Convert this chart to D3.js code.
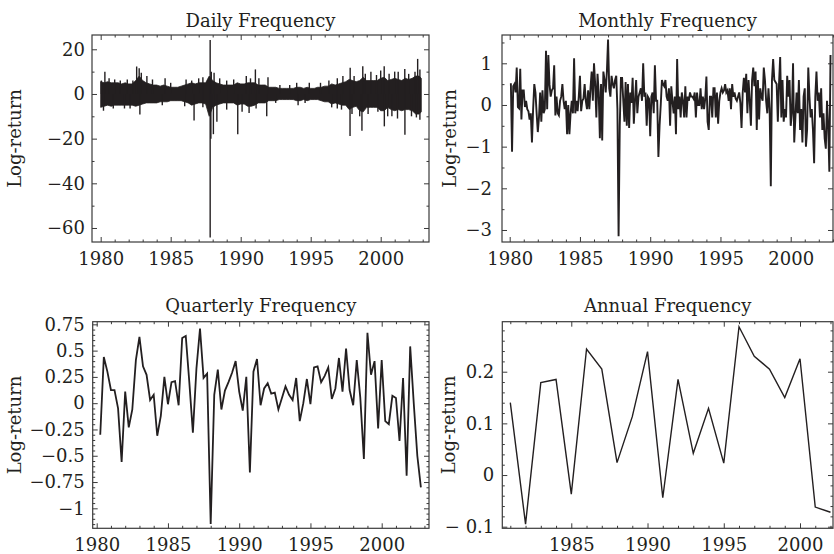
<!DOCTYPE html>
<html>
<head>
<meta charset="utf-8">
<script src="https://cdn.jsdelivr.net/npm/d3@7"></script>
<style>
  body { margin: 0; background: #fff; }
  svg text { font-family: "DejaVu Serif", serif; fill: #231f20; }
  .tick line { stroke: #3a3a3a; }
</style>
</head>
<body>
<div id="chart"></div>
<script>
// Log-returns at four sampling frequencies

// daily: quarterly envelope of the dense core, plus the individual spikes
const dailyBandHi = [
  5.5, 5, 5.5, 5,   5, 5, 4.5, 5,   4.5, 4.5, 6, 8,   6, 5, 4.5, 4,
  4, 3.5, 4, 3.5,   3, 3, 3, 3.5,   4, 4.5, 5, 4.5,   5, 5, 5, 8,
  6, 5, 4.5, 4,     4, 4, 4, 5,     4.5, 4.5, 5, 5,   5, 4, 4, 4,
  3, 3, 3, 2.5,     2.5, 2.5, 2.5, 2.5,  3, 3, 2.5, 3,  2.5, 2.5, 3, 3,
  3.5, 3.5, 4.5, 4, 4.5, 5, 5.5, 6.5,  6, 5.5, 6, 7.5,  6, 6, 6, 6,
  7, 7.5, 6, 6.5,   7, 6.5, 6, 7,   6.5, 7, 8, 8, 7
];
const dailyBandLo = [
  -6, -5.5, -5, -5.5,  -5, -5, -5, -5,  -5, -5, -5.5, -5,  -4.5, -4, -4, -4,
  -4, -3.5, -3.5, -3.5,  -3, -3, -3, -3,  -3.5, -4, -5, -4.5,  -4, -4, -4.5, -10,
  -6, -5, -4.5, -4,  -4, -4, -4, -5,  -4.5, -4.5, -5.5, -5.5,  -5, -4, -4, -4,
  -3, -3, -3, -2.5,  -2.5, -2.5, -2.5, -2.5,  -3, -3, -2.5, -3,  -2.5, -2.5, -2.5, -3,
  -3.5, -3.5, -4.5, -4,  -4.5, -5, -5, -7,  -6, -5.5, -7.5, -8,  -6, -6, -6, -6,
  -7.5, -7.5, -6, -7,  -7.5, -7, -7.5, -7,  -7, -7.5, -9, -9, -8
];
const dailySpikes = [
  [1980.05, 6], [1980.3, 10], [1980.6, 7], [1981.0, 6.5], [1981.4, 6], [1981.9, 6.5],
  [1982.3, 6], [1982.57, 12.3], [1982.75, 11.5], [1982.9, 9.5], [1983.3, 8], [1983.7, 6.5],
  [1984.6, 7], [1985.0, 5], [1986.1, 6.5], [1986.5, 6], [1987.0, 7], [1987.3, 7.5],
  [1987.82, 24.2], [1987.9, 10], [1988.1, 9.5], [1988.5, 7], [1989.0, 6], [1989.5, 6.5],
  [1990.4, 8], [1990.7, 7], [1991.05, 11], [1991.3, 7], [1991.95, 7.5], [1992.8, 4],
  [1993.5, 4], [1994.0, 5], [1994.9, 5], [1995.7, 5], [1996.3, 6], [1996.9, 7],
  [1997.3, 8], [1997.82, 11.7], [1998.1, 8], [1998.72, 12.4], [1998.9, 9], [1999.3, 10],
  [1999.7, 8.5], [2000.0, 10.5], [2000.25, 12.4], [2000.6, 9], [2001.0, 10], [2001.25, 10],
  [2001.72, 11.2], [2002.0, 9], [2002.45, 10], [2002.64, 15.7], [2002.8, 11],
  [1980.2, -7.5], [1980.9, -6.5], [1981.7, -6.5], [1982.1, -6.5], [1982.8, -9.2], [1984.4, -5],
  [1986.0, -5.5], [1986.67, -11.9], [1987.3, -6], [1987.82, -64.3], [1987.87, -20], [1988.05, -18],
  [1988.3, -12.4], [1989.0, -7], [1989.79, -18], [1990.1, -8], [1990.6, -8.5], [1991.1, -6.5],
  [1991.86, -10], [1992.5, -4], [1994.1, -5], [1994.6, -4], [1996.5, -6], [1996.9, -6.5],
  [1997.2, -7], [1997.81, -18.8], [1997.95, -9], [1998.5, -10], [1998.66, -16.5], [1999.1, -9],
  [1999.8, -8], [2000.26, -14.5], [2000.5, -10], [2000.8, -10], [2001.2, -11], [2001.73, -18.3],
  [2002.2, -10], [2002.55, -10.5], [2002.8, -11.5]
];

// monthly, Feb 1980 .. Nov 2002
const monthlyReturns = [
  0.52, -1.12, 0.45, 0.5, 0.3, 0.9, -0.05, -0.08, 0.87, -0.35, 0.35,
  0.35, -0.05, 0.1, -0.1, -0.15, -0.35, -0.2, -0.9, -0.1, 0.5, 0.3, -0.2,
  -0.65, -0.3, 0.3, -0.4, 0.35, -0.2, -0.1, 1.3, -0.1, 1.2, 0.5, 0.2,
  0.35, 0.4, 0.95, -0.25, 0.2, -0.2, -0.25, 0.1, 0.2, 0.5, 0.1, -0.1,
  0.1, -0.7, 0.0, -0.7, -0.2, 0.1, -0.2, 1.12, -0.2, 0.1, -0.15, 0.2,
  0.7, -0.15, 0.1, 0.15, 0.5, 0.1, -0.1, 0.35, -0.1, 0.4, 0.8, 0.1,
  1.0, 0.5, -0.3, 0.75, 0.3, -0.8, 0.5, -0.85, 0.8, 0.6, 0.3, 0.8,
  1.57, 0.4, 0.2, 0.7, 0.5, 0.4, 0.6, 0.7, -0.1, -3.15, -0.5, 0.65,
  0.65, 0.1, -0.4, 0.55, -0.5, 0.5, -0.55, 0.3, 0.05, 0.65, -0.45, 0.1,
  0.6, -0.2, 0.2, 0.3, 0.4, 0.1, 1.0, 0.2, 0.3, -0.5, 0.2, 0.15,
  -0.75, 0.2, 0.3, -0.2, 0.95, 0.1, 0.1, -1.25, -0.5, 0.0, 0.6, 0.5,
  0.45, 0.6, 0.2, 0.1, 0.4, -0.5, 0.45, 0.1, -0.2, 0.2, -0.7, 1.1,
  -0.1, 0.2, -0.3, 0.3, 0.1, -0.3, 0.45, -0.3, 0.2, 0.1, 0.3, 0.2,
  0.2, 0.15, 0.3, -0.3, 0.3, 0.0, 0.0, 0.4, -0.1, 0.2, -0.1, 0.15,
  0.68, -0.4, -0.6, 0.2, 0.2, -0.3, 0.4, 0.4, -0.3, 0.3, -0.45, 0.1,
  0.3, 0.4, 0.3, 0.35, 0.5, 0.3, 0.35, 0.1, 0.4, -0.1, 0.5, 0.2,
  0.3, 0.15, 0.1, 0.2, 0.3, 0.05, -0.55, 0.3, 0.65, 0.3, 0.75, -0.2,
  0.6, 0.1, -0.5, 0.6, 0.9, 0.45, 0.8, -0.6, 0.6, -0.35, 0.4, 0.2,
  0.1, 0.9, 0.6, 0.1, -0.2, 0.4, -0.1, -1.95, 0.6, 1.1, 0.6, 0.55,
  0.5, -0.4, 0.5, 1.15, -0.3, 0.6, -0.4, -0.1, -0.3, 0.7, 0.2, 0.6,
  -0.5, -0.2, 1.0, -0.9, -0.3, 0.3, -0.2, 0.6, -0.6, -0.1, -0.9, 0.2,
  0.4, -1.0, -0.6, 0.9, 0.2, -0.3, -0.1, -0.6, -1.4, 0.2, 0.8, 0.1,
  0.3, -0.3, 0.4, -0.6, -0.2, -0.8, -1.05, 0.1, -0.5, -1.6, 1.2
];

// quarterly, 1980.25 .. 2002.75
const quarterlyReturns = [
  -0.30, 0.44, 0.30, 0.125, 0.125, -0.05, -0.56, 0.11, -0.23, -0.06,
  0.41, 0.63, 0.35, 0.27, 0.03, 0.08, -0.31, -0.12, 0.25, -0.01,
  0.20, 0.21, -0.02, 0.62, 0.64, 0.20, -0.28, 0.33, 0.71, 0.24,
  0.28, -1.15, 0.08, 0.32, -0.06, 0.12, 0.20, 0.29, 0.40, 0.11,
  -0.07, 0.25, -0.66, 0.30, 0.42, -0.02, 0.14, 0.19, 0.09, 0.10,
  -0.06, 0.05, 0.16, 0.08, 0.03, 0.24, -0.17, 0.0, 0.23, -0.01,
  0.34, 0.35, 0.20, 0.26, 0.34, 0.04, 0.14, 0.43, 0.11, 0.52,
  0.125, -0.02, 0.41, 0.05, -0.53, 0.67, 0.27, 0.40, -0.24, 0.41,
  -0.17, -0.20, 0.07, 0.05, -0.36, 0.24, -0.69, 0.54, 0.0, -0.50,
  -0.80
];

// annual, 1981 .. 2002
const annualYears = d3.range(1981, 2003);
const annualReturns = [
  0.140, -0.095, 0.179, 0.185, -0.037, 0.244, 0.205, 0.024, 0.113, 0.239, -0.044,
  0.185, 0.042, 0.129, 0.023, 0.287, 0.230, 0.205, 0.150, 0.225, -0.062, -0.072
];

const yearTicks = [1980, 1985, 1990, 1995, 2000];
const titles = ['Daily Frequency', 'Monthly Frequency', 'Quarterly Frequency', 'Annual Frequency'];
const yLabel = 'Log-return';

const ink = '#231f20';
const svg = d3.select('#chart').append('svg')
  .attr('width', 834).attr('height', 554);

const fmt = d3.format('~g');

function panel(p) {
  const x = d3.scaleLinear().domain(p.xDomain).range([p.left, p.right]);
  const y = d3.scaleLinear().domain(p.yDomain).range([p.bottom, p.top]);
  const g = svg.append('g');
  const inX = v => v > p.xDomain[0] && v < p.xDomain[1];
  const inY = v => v > p.yDomain[0] && v < p.yDomain[1];

  const xMaj = yearTicks.filter(inX);
  const xMin = d3.range(1979, 2005).filter(v => inX(v) && !yearTicks.includes(v));
  const yMaj = p.yTicks.filter(inY);
  const yMin = p.yMinor.filter(v => inY(v) && !p.yTicks.some(t => Math.abs(t - v) < 1e-9));

  const put = (axis, tr) => g.append('g').attr('transform', tr).call(axis)
    .call(a => a.select('.domain').remove());

  // major ticks with labels (bottom, left), mirrored without labels (top, right)
  put(d3.axisBottom(x).tickValues(xMaj).tickSizeInner(-5).tickSizeOuter(0)
    .tickPadding(10).tickFormat(d3.format('d')), `translate(0,${p.bottom})`)
    .selectAll('text').style('font-size', '18px');
  put(d3.axisLeft(y).tickValues(yMaj).tickSizeInner(-5).tickSizeOuter(0)
    .tickPadding(p.yPad).tickFormat(p.yFormat || fmt), `translate(${p.left},0)`)
    .selectAll('text').style('font-size', '18px');
  put(d3.axisTop(x).tickValues(xMaj).tickSizeInner(-5).tickSizeOuter(0).tickFormat(''),
    `translate(0,${p.top})`);
  put(d3.axisRight(y).tickValues(yMaj).tickSizeInner(-5).tickSizeOuter(0).tickFormat(''),
    `translate(${p.right},0)`);

  // minor ticks
  put(d3.axisBottom(x).tickValues(xMin).tickSizeInner(-2.5).tickSizeOuter(0).tickFormat(''),
    `translate(0,${p.bottom})`);
  put(d3.axisTop(x).tickValues(xMin).tickSizeInner(-2.5).tickSizeOuter(0).tickFormat(''),
    `translate(0,${p.top})`);
  put(d3.axisLeft(y).tickValues(yMin).tickSizeInner(-2.5).tickSizeOuter(0).tickFormat(''),
    `translate(${p.left},0)`);
  put(d3.axisRight(y).tickValues(yMin).tickSizeInner(-2.5).tickSizeOuter(0).tickFormat(''),
    `translate(${p.right},0)`);

  g.append('rect')
    .attr('x', p.left).attr('y', p.top)
    .attr('width', p.right - p.left).attr('height', p.bottom - p.top)
    .attr('fill', 'none').attr('stroke', '#3a3a3a').attr('stroke-width', 1.2);

  g.append('text')
    .attr('x', (p.left + p.right) / 2).attr('y', p.titleY)
    .attr('text-anchor', 'middle').style('font-size', '18px')
    .text(p.title);

  g.append('text')
    .attr('transform', `translate(${p.labelX},${(p.top + p.bottom) / 2}) rotate(-90)`)
    .attr('text-anchor', 'middle').style('font-size', '18px')
    .text(yLabel);

  p.draw(g, x, y);
}

// Daily
panel({
  left: 92, right: 429, top: 35, bottom: 242,
  xDomain: [1979.38, 2003.45], yDomain: [-66.27, 26.4],
  yTicks: [20, 0, -20, -40, -60], yMinor: d3.range(-60, 30, 10), yPad: 7,
  title: titles[0], titleY: 27, labelX: 21,
  draw: (g, x, y) => {
    const t = i => Math.min(1980 + i * 0.25, 2002.9);
    const band = d3.area()
      .x((d, i) => x(t(i)))
      .y0((d, i) => y(dailyBandLo[i]))
      .y1(d => y(d));
    g.append('path').datum(dailyBandHi)
      .attr('d', band).attr('fill', ink).attr('stroke', ink).attr('stroke-width', 0.8);
    g.selectAll('.spike').data(dailySpikes).enter().append('line')
      .attr('class', 'spike')
      .attr('x1', d => x(d[0])).attr('x2', d => x(d[0]))
      .attr('y1', y(0)).attr('y2', d => y(d[1]))
      .attr('stroke', ink).attr('stroke-width', 1.4);
  }
});

// Monthly
panel({
  left: 502, right: 833, top: 35, bottom: 242,
  xDomain: [1979.452, 2003.01], yDomain: [-3.288, 1.679],
  yTicks: [1, 0, -1, -2, -3], yMinor: d3.range(-3, 1.6, 0.5), yPad: 10,
  title: titles[1], titleY: 27, labelX: 455.7,
  draw: (g, x, y) => {
    const line = d3.line()
      .x((d, i) => x(1980 + (i + 1) / 12))
      .y(d => y(d));
    g.append('path').datum(monthlyReturns)
      .attr('d', line).attr('fill', 'none')
      .attr('stroke', ink).attr('stroke-width', 1.9).attr('stroke-linejoin', 'miter');
  }
});

// Quarterly
panel({
  left: 92.7, right: 429, top: 321.7, bottom: 528.3,
  xDomain: [1979.72, 2003.32], yDomain: [-1.19, 0.775],
  yTicks: [0.75, 0.5, 0.25, 0, -0.25, -0.5, -0.75, -1], yMinor: d3.range(-1.15, 0.8, 0.05).map(v => +v.toFixed(2)), yPad: 8,
  title: titles[2], titleY: 312, labelX: 21,
  draw: (g, x, y) => {
    const line = d3.line()
      .x((d, i) => x(1980.25 + i * 0.25))
      .y(d => y(d));
    g.append('path').datum(quarterlyReturns)
      .attr('d', line).attr('fill', 'none')
      .attr('stroke', ink).attr('stroke-width', 1.8);
  }
});

// Annual
panel({
  left: 502.3, right: 833, top: 321.7, bottom: 528.3,
  xDomain: [1980.475, 2002.164], yDomain: [-0.1031, 0.2968],
  yTicks: [0.2, 0.1, 0, -0.1], yMinor: d3.range(-0.1, 0.3, 0.02).map(v => +v.toFixed(2)), yPad: 8,
  yFormat: d => d < 0 ? '\u2212 ' + fmt(-d) : fmt(d),
  title: titles[3], titleY: 312, labelX: 454.7,
  draw: (g, x, y) => {
    const line = d3.line()
      .x((d, i) => x(annualYears[i]))
      .y(d => y(d));
    g.append('path').datum(annualReturns)
      .attr('d', line).attr('fill', 'none')
      .attr('stroke', ink).attr('stroke-width', 1.4);
  }
});
</script>
</body>
</html>
